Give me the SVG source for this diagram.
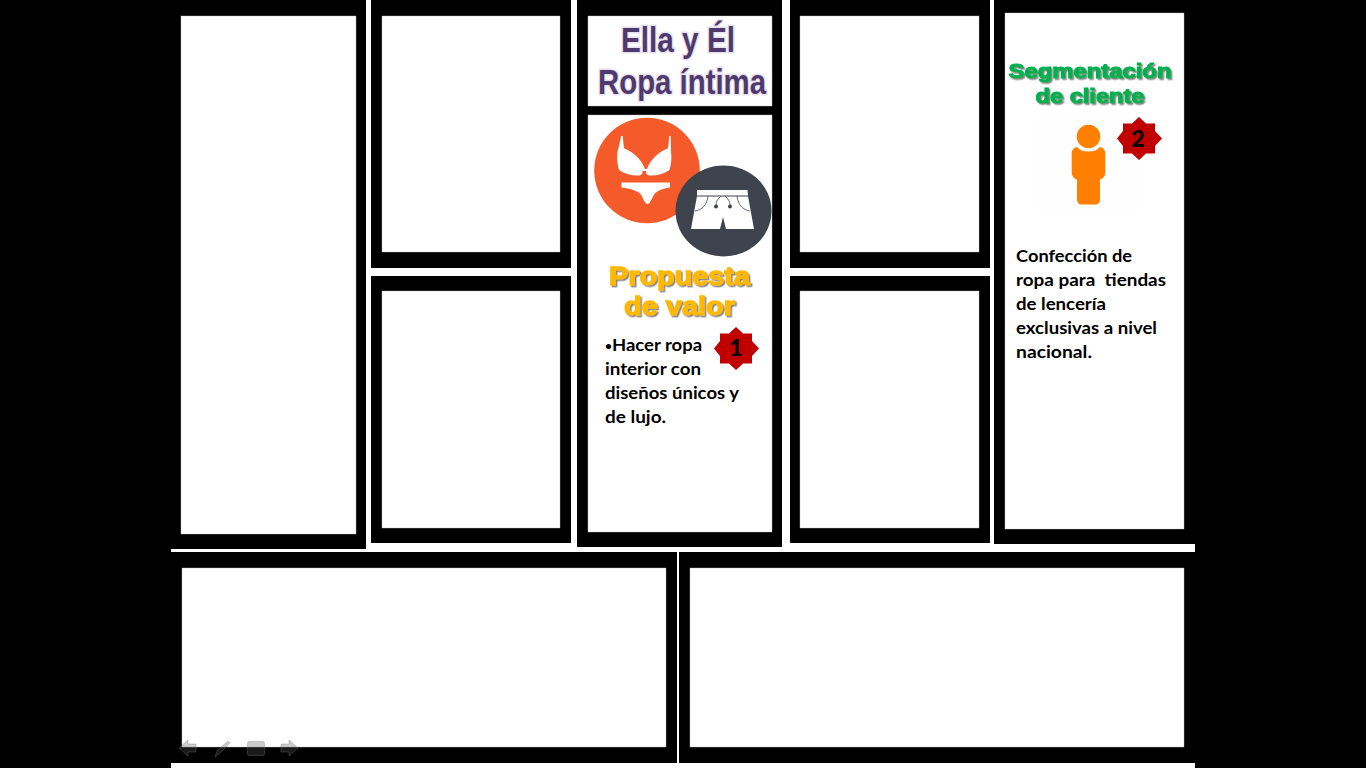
<svg xmlns="http://www.w3.org/2000/svg" width="1366" height="768" viewBox="0 0 1366 768">
<defs>
<style>
.f{fill:#000}.p{fill:#fff;stroke:#c4c4c4;stroke-width:.4}
.b{font-family:Lato,"Liberation Sans",sans-serif;font-weight:700;font-size:17px;fill:#000}
.h{font-family:"Liberation Sans",sans-serif;font-weight:700;text-anchor:middle}
.t{fill:#4f3a6e;stroke:#e6e1ec;stroke-width:3;paint-order:stroke;font-size:35px}
.num{font-family:Lato,"Liberation Sans",sans-serif;font-weight:900;font-size:23px;text-anchor:middle;fill:#000}
.star{fill:#c00000}
.nav{fill:#555;fill-opacity:.3;stroke:#777;stroke-opacity:.35;stroke-width:1}
</style>
<filter id="s1" x="-10%" y="-20%" width="120%" height="140%"><feDropShadow dx="1.500" dy="1.500" stdDeviation=".7" flood-color="#666" flood-opacity=".8"/></filter>
</defs>
<rect width="1366" height="768" fill="#000"/>
<rect x="171" y="0" width="1024" height="768" fill="#fff"/>
<g id="col1"><rect class="f" x="171" y="0" width="195" height="549"/><rect class="p" x="181" y="16" width="175" height="518"/></g>
<g id="col2-top"><rect class="f" x="371" y="0" width="200" height="268"/><rect class="p" x="382" y="16" width="178" height="236"/></g>
<g id="col2-bottom"><rect class="f" x="371" y="276" width="200" height="267"/><rect class="p" x="382" y="291" width="178" height="237"/></g>
<g id="col3"><rect class="f" x="577" y="0" width="205" height="547"/><rect class="p" x="588" y="16" width="184" height="90"/><rect class="p" x="588" y="115" width="184" height="417"/></g>
<g id="col4-top"><rect class="f" x="790" y="0" width="200" height="268"/><rect class="p" x="800" y="16" width="179" height="236"/></g>
<g id="col4-bottom"><rect class="f" x="790" y="276" width="200" height="267"/><rect class="p" x="800" y="291" width="179" height="237"/></g>
<g id="col5"><rect class="f" x="994" y="0" width="201" height="544"/><rect class="p" x="1005" y="13" width="179" height="516"/></g>
<g id="bottom-left"><rect class="f" x="171" y="552" width="506" height="211"/><rect class="p" x="182" y="568" width="484" height="179"/></g>
<g id="bottom-right"><rect class="f" x="679" y="552" width="516" height="211"/><rect class="p" x="690" y="568" width="494" height="179"/></g>
<g id="title">
<text class="h t" x="678" y="52" textLength="114" lengthAdjust="spacingAndGlyphs">Ella y Él</text>
<text class="h t" x="682" y="94" textLength="168" lengthAdjust="spacingAndGlyphs">Ropa íntima</text>
</g>
<g id="icon-ella">
<circle cx="647" cy="170.500" r="52.800" fill="#f55a2a"/>
<path fill="#fff" d="M621.300 136h1.500c.5 6 .7 10 1.500 12.500 8 3 17 10 20.700 20.500h2c3.700-10.500 12.700-17.500 20.700-20.500.8-2.500 1-6.500 1.500-12.500h1.500l.3 16c1 6 0 13-1.500 18-6 4-14 6-20 5.500-3-.3-3.500-2-3.500-4.500h-3.500c0 2.500-.5 4.200-3.500 4.500-6 .5-14-1.500-20-5.500-1.500-5-2.500-12-1.500-18z"/>
<path fill="#fff" d="M621.500 182.500h48.500v5c-9 1.500-14 3.500-16.500 8-2.500 5-4 8.500-6 8.500s-3.500-3.500-6-8.500c-2.500-4.500-9-6.500-20-8z"/>
</g>
<g id="icon-el">
<ellipse cx="723.500" cy="211" rx="48" ry="45.500" fill="#3f434d"/>
<path fill="#fff" d="M697 190h50.500l.5 6 6 33h-28l-3-12-3 12h-29l6-33z"/>
<path fill="none" stroke="#3f434d" stroke-width="1" d="M697 196h51"/>
<path fill="none" stroke="#3f434d" stroke-width=".8" d="M695 211c7-1 12-6 13-15M750 211c-7-1-12-6-13-15M716 205c0-4 2-6 5-9M730 205c0-4-2-6-5-9"/>
<circle cx="716" cy="206.500" r="2" fill="#3f434d"/><circle cx="730" cy="206.500" r="2" fill="#3f434d"/>
</g>
<g id="propuesta">
<text class="h" x="679.500" y="285" font-size="26" fill="#ffb900" stroke="#ffb900" stroke-width="1.300" filter="url(#s1)" textLength="141" lengthAdjust="spacingAndGlyphs">Propuesta</text>
<text class="h" x="679.500" y="315" font-size="26" fill="#ffb900" stroke="#ffb900" stroke-width="1.300" filter="url(#s1)" textLength="111" lengthAdjust="spacingAndGlyphs">de valor</text>
<text class="b" x="605" y="351"><tspan font-size="12" dy="-1">•</tspan><tspan x="612" dy="1" textLength="90" lengthAdjust="spacingAndGlyphs">Hacer ropa</tspan></text>
<text class="b" x="605" y="375" textLength="96" lengthAdjust="spacingAndGlyphs">interior con</text>
<text class="b" x="605" y="399" textLength="134" lengthAdjust="spacingAndGlyphs">diseños únicos y</text>
<text class="b" x="605" y="423" textLength="61" lengthAdjust="spacingAndGlyphs">de lujo.</text>
</g>
<g id="badge-1"><polygon class="star" points="736,327 743,333.500 752,333.500 752,341 759,348.500 752,356 752,363.500 743,363.500 736,370 729,363.500 720,363.500 720,356 714,348.500 720,341 720,333.500 729,333.500"/><text class="num" x="736" y="356">1</text></g>
<g id="segmentacion">
<text class="h" x="1090" y="78" font-size="21" fill="#00b050" stroke="#00b050" stroke-width="1.100" filter="url(#s1)" textLength="163" lengthAdjust="spacingAndGlyphs">Segmentación</text>
<text class="h" x="1090" y="103" font-size="21" fill="#00b050" stroke="#00b050" stroke-width="1.100" filter="url(#s1)" textLength="109" lengthAdjust="spacingAndGlyphs">de cliente</text>
</g>
<g id="icon-cliente" fill="#ff7f00">
<rect x="1038" y="118" width="100" height="92" fill="#fefefe"/>
<circle cx="1088.500" cy="136.500" r="11.800"/>
<path d="M1077 147c2.500 3 6.500 4.500 11.500 4.500s9-1.500 11.500-4.500c3 .5 5.300 3 5.300 6v20c0 3-2.300 5.500-5.300 6.500v20c0 3-2 5-5 5h-13c-3 0-5-2-5-5v-20c-3-1-5.300-3.500-5.300-6.500v-20c0-3 2.300-5.500 5.300-6z"/>
</g>
<g id="badge-2"><polygon class="star" points="1139,117 1146,123.500 1155,123.500 1155,131 1162,138.500 1155,146 1155,153.500 1146,153.500 1139,160 1132,153.500 1123,153.500 1123,146 1117,138.500 1123,131 1123,123.500 1132,123.500"/><text class="num" x="1138" y="147">2</text></g>
<g id="cliente-texto">
<text class="b" x="1016" y="262" textLength="116" lengthAdjust="spacingAndGlyphs">Confección de</text>
<text class="b" x="1016" y="286" textLength="150" lengthAdjust="spacingAndGlyphs" xml:space="preserve">ropa para  tiendas</text>
<text class="b" x="1016" y="310" textLength="90" lengthAdjust="spacingAndGlyphs">de lencería</text>
<text class="b" x="1016" y="334" textLength="141" lengthAdjust="spacingAndGlyphs">exclusivas a nivel</text>
<text class="b" x="1016" y="358" textLength="76" lengthAdjust="spacingAndGlyphs">nacional.</text>
</g>
<g id="nav">
<path class="nav" d="M179 748l9-8v4h8v8h-8v4z"/>
<path class="nav" d="M215 757l2-6 11-10 2 2-10 10z"/>
<rect class="nav" x="247.500" y="741.500" width="17" height="14" rx="2"/>
<path class="nav" d="M298 748l-9-8v4h-8v8h8v4z"/>
</g>
</svg>
